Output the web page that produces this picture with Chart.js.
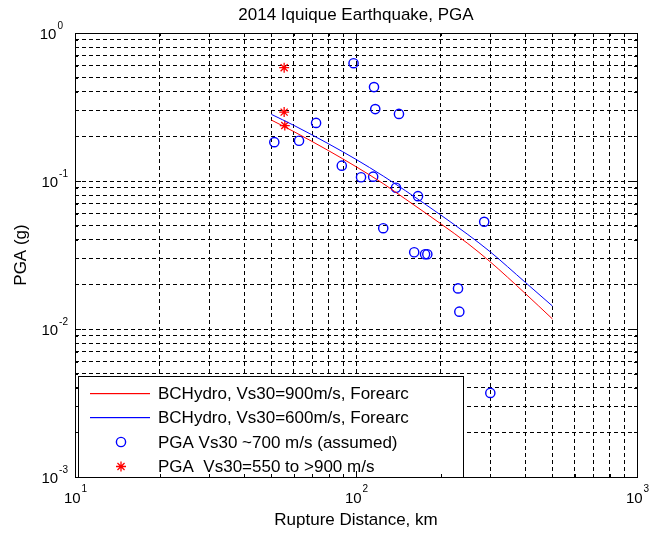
<!DOCTYPE html>
<html>
<head>
<meta charset="utf-8">
<script src="https://cdn.jsdelivr.net/npm/chart.js@4.4.0/dist/chart.umd.min.js"></script>
<style>
  html, body { margin: 0; padding: 0; background: #fff; }
  #c { display: block; }
</style>
</head>
<body>
<canvas id="c" width="649" height="533"></canvas>
<script>
// BCHydro model curves (rupture distance in km, PGA in g)
const modelDistance = [50, 60, 80, 100, 125, 150, 200, 250, 300, 400, 500];
const bcHydro900 = [0.258, 0.216, 0.160, 0.125, 0.096, 0.0755, 0.0515, 0.0378, 0.0285, 0.0174, 0.0117];
const bcHydro600 = [0.282, 0.238, 0.178, 0.140, 0.108, 0.086, 0.059, 0.0435, 0.0333, 0.0207, 0.0143];

// Recorded PGA, stations with Vs30 ~700 m/s (assumed)
const stationDistance = [51.2, 62.7, 72.1, 89.0, 98.0, 104.2, 115.1, 115.9, 117.1, 142.2,
                         138.8, 166.2, 125.0, 161.1, 176.1, 179.4, 285.9, 230.7, 233.2, 300.6];
const stationPGA = [0.183, 0.187, 0.247, 0.127, 0.625, 0.106, 0.107, 0.431, 0.306, 0.284,
                    0.090, 0.079, 0.048, 0.033, 0.032, 0.032, 0.053, 0.0188, 0.0131, 0.0037];

// Recorded PGA, stations with measured Vs30 = 550 to >900 m/s
const measuredDistance = [55.5, 55.5, 55.8];
const measuredPGA = [0.583, 0.292, 0.237];

// Axis ticks (decades plus 2..9 minor positions)
const xTickValues = [10, 20, 30, 40, 50, 60, 70, 80, 90, 100, 200, 300, 400, 500, 600, 700, 800, 900, 1000];
const yTickValues = [0.001, 0.002, 0.003, 0.004, 0.005, 0.006, 0.007, 0.008, 0.009,
                     0.01, 0.02, 0.03, 0.04, 0.05, 0.06, 0.07, 0.08, 0.09,
                     0.1, 0.2, 0.3, 0.4, 0.5, 0.6, 0.7, 0.8, 0.9, 1];
const xMajor = [10, 100, 1000];
const yMajor = [1, 0.1, 0.01, 0.001];

const chartTitle = '2014 Iquique Earthquake, PGA';
const xTitle = 'Rupture Distance, km';
const yTitle = 'PGA (g)';

const RED = '#ff0000';
const BLUE = '#0000ff';
const NONE = 'rgba(0,0,0,0)';
const FONT = '"Liberation Sans", Arial, Helvetica, sans-serif';

const toPoints = (xs, ys) => xs.map((x, i) => ({ x: x, y: ys[i] }));

function isDecade(v) {
  const e = Math.log10(v);
  return Math.abs(e - Math.round(e)) < 1e-9;
}

// Axes box, inward tick marks, power-of-ten labels, titles and legend
const framePlugin = {
  id: 'frame',
  afterDraw(chart) {
    const ctx = chart.ctx;
    const area = chart.chartArea;
    const xs = chart.scales.x, ys = chart.scales.y;
    ctx.save();
    ctx.setLineDash([]);

    // legend box
    const lx = 78.5, ly = 376.5, lw = 385, lh = 101;
    ctx.fillStyle = '#fff';
    ctx.fillRect(lx, ly, lw, lh);
    ctx.strokeStyle = '#000';
    ctx.lineWidth = 1;
    ctx.strokeRect(lx, ly, lw, lh);

    const rowY = [393.5, 417.5, 442, 466.5];
    chart.data.datasets.forEach((ds, i) => {
      const y = rowY[i];
      if (ds.showLine) {
        // line sample in the curve's colour
        ctx.fillStyle = ds.borderColor;
        ctx.fillRect(90, Math.round(y) - 1, 60, 1.2);
      } else {
        ctx.strokeStyle = ds.borderColor;
        ctx.fillStyle = ds.backgroundColor;
        ctx.lineWidth = ds.borderWidth;
        Chart.helpers.drawPoint(ctx, { pointStyle: ds.pointStyle, radius: ds.pointRadius, rotation: 0, borderWidth: ds.borderWidth }, 121, y);
      }
      ctx.font = '17px ' + FONT;
      ctx.textBaseline = 'middle';
      ctx.textAlign = 'left';
      ctx.fillStyle = '#000';
      ctx.fillText(ds.label, 158, y + 1);
    });

    // axes box
    ctx.strokeStyle = '#000';
    ctx.lineWidth = 1;
    ctx.strokeRect(Math.round(area.left) + 0.5, Math.round(area.top) + 0.5,
                   Math.round(area.right - area.left), Math.round(area.bottom - area.top));

    // inward tick marks on all four sides
    ctx.beginPath();
    xTickValues.forEach(v => {
      const px = Math.round(xs.getPixelForValue(v)) + 0.5;
      const len = isDecade(v) ? 6 : 3;
      ctx.moveTo(px, area.bottom); ctx.lineTo(px, area.bottom - len);
      ctx.moveTo(px, area.top); ctx.lineTo(px, area.top + len);
    });
    yTickValues.forEach(v => {
      const py = Math.round(ys.getPixelForValue(v)) + 0.5;
      const len = isDecade(v) ? 6 : 3;
      ctx.moveTo(area.left, py); ctx.lineTo(area.left + len, py);
      ctx.moveTo(area.right, py); ctx.lineTo(area.right - len, py);
    });
    ctx.stroke();

    // decade labels: "10" with a raised exponent
    ctx.fillStyle = '#000';
    const baseFont = '15px ' + FONT, expFont = '10px ' + FONT;
    ctx.textBaseline = 'alphabetic';
    ctx.textAlign = 'left';
    xMajor.forEach(v => {
      const px = xs.getPixelForValue(v);
      const exp = String(Math.round(Math.log10(v)));
      ctx.font = baseFont; const wb = ctx.measureText('10').width;
      ctx.font = expFont; const we = ctx.measureText(exp).width;
      const x0 = px - (wb + we) / 2;
      ctx.font = baseFont; ctx.fillText('10', x0, 503);
      ctx.font = expFont; ctx.fillText(exp, x0 + wb + 1, 492);
    });
    yMajor.forEach(v => {
      const py = ys.getPixelForValue(v);
      const exp = String(Math.round(Math.log10(v)));
      ctx.font = expFont; const we = ctx.measureText(exp).width;
      ctx.font = baseFont; const wb = ctx.measureText('10').width;
      const right = v < 1 ? 68 : 63;
      const x0 = right - we - 1 - wb;
      ctx.font = baseFont; ctx.fillText('10', x0, py + 6);
      ctx.font = expFont; ctx.fillText(exp, x0 + wb + 1, py - 4);
    });

    // titles
    const cx = (area.left + area.right) / 2;
    ctx.font = '17px ' + FONT;
    ctx.textAlign = 'center';
    ctx.textBaseline = 'middle';
    ctx.fillText(chartTitle, cx, 15);
    ctx.fillText(xTitle, cx, 520);
    ctx.save();
    ctx.translate(21, (area.top + area.bottom) / 2);
    ctx.rotate(-Math.PI / 2);
    ctx.fillText(yTitle, 0, 0);
    ctx.restore();

    ctx.restore();
  }
};

const gridOptions = { color: '#000', lineWidth: 1, drawTicks: false };
const borderOptions = { display: false, dash: [4, 3] };

new Chart(document.getElementById('c'), {
  type: 'scatter',
  data: {
    datasets: [
      {
        label: 'BCHydro, Vs30=900m/s, Forearc',
        data: toPoints(modelDistance, bcHydro900),
        showLine: true, borderColor: RED, backgroundColor: RED,
        borderWidth: 1, pointRadius: 0, cubicInterpolationMode: 'monotone', fill: false
      },
      {
        label: 'BCHydro, Vs30=600m/s, Forearc',
        data: toPoints(modelDistance, bcHydro600),
        showLine: true, borderColor: BLUE, backgroundColor: BLUE,
        borderWidth: 1, pointRadius: 0, cubicInterpolationMode: 'monotone', fill: false
      },
      {
        label: 'PGA Vs30 ~700 m/s (assumed)',
        data: toPoints(stationDistance, stationPGA),
        showLine: false, pointStyle: 'circle', pointRadius: 4.6,
        borderColor: BLUE, backgroundColor: NONE, borderWidth: 1.4
      },
      {
        label: 'PGA  Vs30=550 to >900 m/s',
        data: toPoints(measuredDistance, measuredPGA),
        showLine: false, pointStyle: 'star', pointRadius: 5,
        borderColor: RED, backgroundColor: RED, borderWidth: 1.3
      }
    ]
  },
  options: {
    responsive: false,
    animation: false,
    events: [],
    layout: { padding: { left: 75, right: 12, top: 33, bottom: 56 } },
    plugins: { legend: { display: false }, title: { display: false }, tooltip: { enabled: false } },
    scales: {
      x: {
        type: 'logarithmic', min: 10, max: 1000,
        afterBuildTicks: s => { s.ticks = xTickValues.map(v => ({ value: v })); },
        ticks: { display: false },
        grid: gridOptions, border: borderOptions
      },
      y: {
        type: 'logarithmic', min: 0.001, max: 1,
        afterBuildTicks: s => { s.ticks = yTickValues.map(v => ({ value: v })); },
        ticks: { display: false },
        grid: gridOptions, border: borderOptions
      }
    }
  },
  plugins: [framePlugin]
});
</script>
</body>
</html>
